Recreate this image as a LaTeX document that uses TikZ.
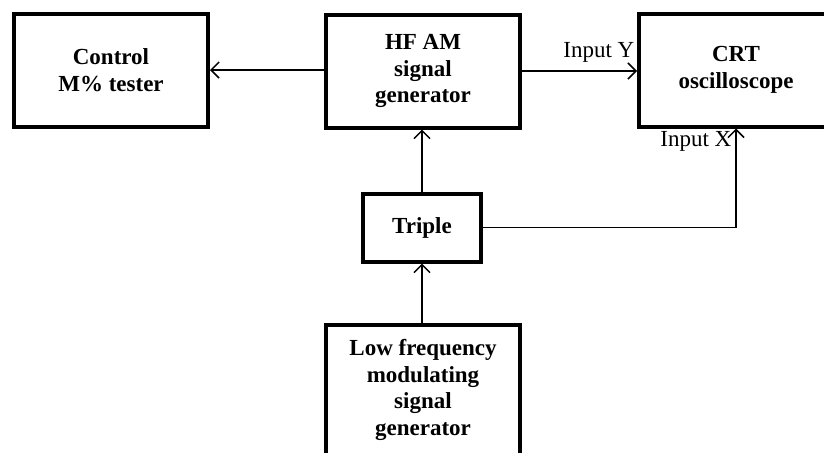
\documentclass[tikz,border=0pt]{standalone}
\usepackage{fontspec}
\setmainfont{Liberation Serif}
\usepackage{tikz}
\usetikzlibrary{positioning,arrows.meta,calc}

\begin{document}
\begin{tikzpicture}[x=0.5pt, y=-0.5pt, >={Straight Barb[length=4pt,width=8pt]},
  font=\fontsize{11.5}{13.3}\selectfont,
  block/.style={draw, line width=2pt, align=center, font=\fontsize{11.5}{13.3}\selectfont\bfseries,
    minimum width=97pt, minimum height=56.5pt, inner sep=2pt},
  smallblock/.style={block, minimum width=59pt, minimum height=34pt},
  wire/.style={->, line width=0.75pt},
  lbl/.style={inner sep=1pt}]
\useasboundingbox (0,0) rectangle (824,452);
\clip (0,0) rectangle (824,452);
\node[block] (ctl) at (111,70) {Control\\M\% tester};
\node[block] (hf) at (423,71) {HF AM\\signal\\generator};
\node[block] (crt) at (736,70) {CRT\\oscilloscope};
\node[smallblock] (tri) at (422,227.5) {Triple};
\node[block, minimum height=65pt] (lfg) at (423,390) {Low frequency\\modulating\\signal\\generator};
% connectors
\draw[wire] (hf.west |- ctl.east) -- (ctl.east);
\draw[wire] (hf.east) -- node[lbl, pos=1, above left, yshift=3pt] {Input Y} (hf.east -| crt.west);
\draw[wire] (tri.north) -- (tri.north |- hf.south);
\draw[wire] (lfg.north -| tri.south) -- (tri.south);
\coordinate (xin) at (tri.east -| crt.south);
\draw[wire] (tri.east) -- (xin) -- node[lbl, pos=1, below left, xshift=-1pt] {Input X} (crt.south);
\end{tikzpicture}
\end{document}
